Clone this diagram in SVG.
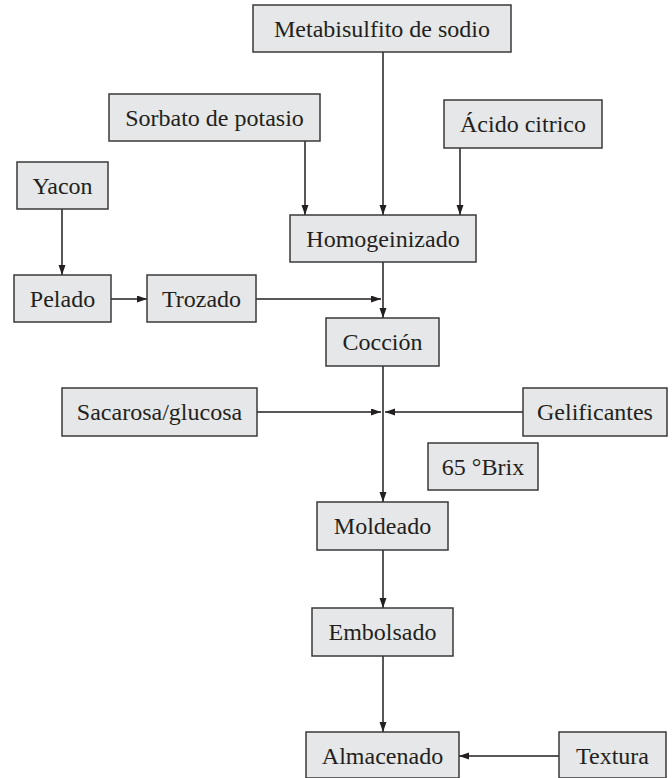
<svg xmlns="http://www.w3.org/2000/svg" width="672" height="778" viewBox="0 0 672 778">
<style>
.box{fill:#e6e7e8;stroke:#3a3a3a;stroke-width:1.5}
.lbl{font-family:"Liberation Serif","Tinos","Times New Roman","DejaVu Serif",serif;font-size:24px;fill:#231f20;text-anchor:middle}
.con{stroke:#231f20;stroke-width:1.5;fill:none;marker-end:url(#ah)}
</style>
<defs>
<marker id="ah" markerUnits="userSpaceOnUse" markerWidth="11" markerHeight="8" refX="10" refY="3.5" orient="auto">
<path d="M0,0 L10,3.5 L0,7 z" fill="#231f20"/>
</marker>
</defs>
<rect width="672" height="778" fill="#ffffff"/>
<g id="connectors">
<line class="con" x1="383" y1="52" x2="383" y2="215"/>
<line class="con" x1="305" y1="141" x2="305" y2="215"/>
<line class="con" x1="460" y1="148" x2="460" y2="215"/>
<line class="con" x1="62" y1="209" x2="62" y2="275"/>
<line class="con" x1="111" y1="299" x2="147" y2="299"/>
<line class="con" x1="256" y1="299" x2="381" y2="299"/>
<line class="con" x1="383" y1="262" x2="383" y2="318"/>
<line class="con" x1="383" y1="366" x2="383" y2="502"/>
<line class="con" x1="257" y1="412" x2="381" y2="412"/>
<line class="con" x1="523" y1="412" x2="385" y2="412"/>
<line class="con" x1="383" y1="550" x2="383" y2="608"/>
<line class="con" x1="383" y1="656" x2="383" y2="732"/>
<line class="con" x1="559" y1="756" x2="459" y2="756"/>
</g>
<g id="metabisulfito"><rect class="box" x="253" y="5" width="258" height="47"/><text class="lbl" x="382" y="37">Metabisulfito de sodio</text></g>
<g id="sorbato"><rect class="box" x="109" y="94" width="211" height="47"/><text class="lbl" x="214.5" y="126">Sorbato de potasio</text></g>
<g id="acido"><rect class="box" x="444" y="100" width="158" height="48"/><text class="lbl" x="523" y="132">Ácido citrico</text></g>
<g id="yacon"><rect class="box" x="17" y="162" width="91" height="47"/><text class="lbl" x="62.5" y="194">Yacon</text></g>
<g id="homogeinizado"><rect class="box" x="290" y="215" width="186" height="47"/><text class="lbl" x="383" y="247">Homogeinizado</text></g>
<g id="pelado"><rect class="box" x="14" y="275" width="97" height="47"/><text class="lbl" x="62.5" y="307">Pelado</text></g>
<g id="trozado"><rect class="box" x="147" y="275" width="109" height="47"/><text class="lbl" x="201.5" y="307">Trozado</text></g>
<g id="coccion"><rect class="box" x="326" y="318" width="113" height="48"/><text class="lbl" x="382.5" y="350">Cocción</text></g>
<g id="sacarosa"><rect class="box" x="62" y="388" width="195" height="48"/><text class="lbl" x="159.5" y="420">Sacarosa/glucosa</text></g>
<g id="gelificantes"><rect class="box" x="523" y="388" width="144" height="48"/><text class="lbl" x="595" y="420">Gelificantes</text></g>
<g id="brix"><rect class="box" x="428" y="443" width="110" height="47"/><text class="lbl" x="483" y="475">65 °Brix</text></g>
<g id="moldeado"><rect class="box" x="317" y="502" width="131" height="48"/><text class="lbl" x="382.5" y="534">Moldeado</text></g>
<g id="embolsado"><rect class="box" x="312" y="608" width="141" height="48"/><text class="lbl" x="382.5" y="640">Embolsado</text></g>
<g id="almacenado"><rect class="box" x="306" y="732" width="153" height="46"/><text class="lbl" x="382.5" y="764">Almacenado</text></g>
<g id="textura"><rect class="box" x="559" y="732" width="107" height="46"/><text class="lbl" x="612.5" y="764">Textura</text></g>
</svg>
